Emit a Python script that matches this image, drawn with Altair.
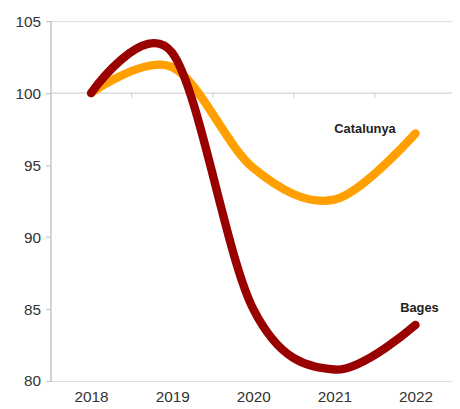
import altair as alt
import pandas as pd

years = [2018, 2019, 2020, 2021, 2022]
catalunya = [100.0, 101.8, 94.8, 92.6, 97.2]
bages = [100.0, 102.8, 85.0, 80.8, 83.9]
series_names = ["Catalunya", "Bages"]
colors = ["#FFA000", "#990000"]
boundaries = [2018.5, 2019.5, 2020.5, 2021.5]

rows = []
for i, y in enumerate(years):
    rows.append({"year": y, "value": catalunya[i], "serie": "Catalunya", "order": 0})
    rows.append({"year": y, "value": bages[i], "serie": "Bages", "order": 1})
df = pd.DataFrame(rows)

FONT = "Liberation Sans"
xscale = alt.Scale(domain=[2017.5, 2022.45], nice=False, zero=False)
yscale = alt.Scale(domain=[80, 105], nice=False, zero=False)

base_axis_x = alt.Axis(values=years, format="d", domain=False, ticks=False, grid=False,
                       labelFont=FONT, labelFontSize=15.5, labelColor="#333333",
                       labelPadding=9, title=None)
axis_y = alt.Axis(values=[80, 85, 90, 95, 100, 105], grid=False, domain=True,
                  domainColor="#BBBBBB", tickColor="#BBBBBB", tickSize=5,
                  labelFont=FONT, labelFontSize=15.5, labelColor="#333333",
                  labelPadding=5, title=None)

# horizontal axis line crossing at 100
hline = alt.Chart(pd.DataFrame({"v": [100]})).mark_rule(color="#C8C8C8", strokeWidth=1).encode(
    y=alt.Y("v:Q", scale=yscale, axis=axis_y)
)
ticks = alt.Chart(pd.DataFrame({"b": boundaries, "v": [100] * len(boundaries)})).mark_tick(
    orient="vertical", size=5, thickness=1, color="#BBBBBB", yOffset=2.5
).encode(
    x=alt.X("b:Q", scale=xscale, axis=base_axis_x),
    y=alt.Y("v:Q", scale=yscale),
)

lines = alt.Chart(df).mark_line(interpolate="cardinal", strokeWidth=8.5, strokeCap="round").encode(
    x=alt.X("year:Q", scale=xscale, axis=base_axis_x),
    y=alt.Y("value:Q", scale=yscale, axis=axis_y),
    color=alt.Color("serie:N", scale=alt.Scale(domain=series_names, range=colors), legend=None),
    order=alt.Order("order:Q"),
    detail="serie:N",
)

last = df[df["year"] == years[-1]]
lab_cat = alt.Chart(last[last["serie"] == "Catalunya"]).mark_text(
    font=FONT, fontSize=13, fontWeight="bold", color="#222222", align="right",
    baseline="middle", dx=-20, dy=-4
).encode(x=alt.X("year:Q", scale=xscale), y=alt.Y("value:Q", scale=yscale), text="serie:N")
lab_bag = alt.Chart(last[last["serie"] == "Bages"]).mark_text(
    font=FONT, fontSize=13, fontWeight="bold", color="#222222", align="center",
    baseline="middle", dx=4, dy=-17
).encode(x=alt.X("year:Q", scale=xscale), y=alt.Y("value:Q", scale=yscale), text="serie:N")

chart = alt.layer(hline, ticks, lines, lab_cat, lab_bag).properties(
    width=406, height=364,
    padding={"left": 43, "top": 11, "right": 0, "bottom": 26},
    autosize=alt.AutoSizeParams(type="none"),
).configure_view(stroke=None).configure(background="white")

chart.save("out.html", embed_options={"renderer": "svg", "actions": False})
